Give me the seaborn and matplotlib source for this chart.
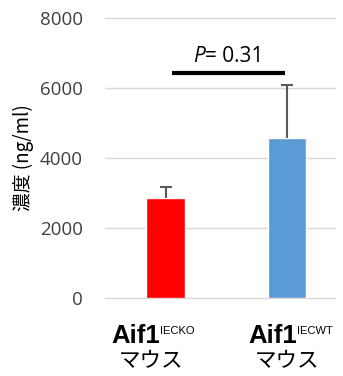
import matplotlib
matplotlib.use("Agg")
import matplotlib.pyplot as plt
import matplotlib.transforms as mtransforms
import seaborn as sns
import pandas as pd

groups = ["Aif1 IECKO", "Aif1 IECWT"]
label_main = ["Aif1", "Aif1"]
label_sup = ["IECKO", "IECWT"]
label_sub = ["マウス", "マウス"]
means = [2850, 4580]
errors = [320, 1510]
colors = ["#FF0000", "#5B9BD5"]
yticks = [0, 2000, 4000, 6000, 8000]
p_text = "= 0.31"

sns.set_theme(style="white")
plt.rcParams['font.family'] = ['Open Sans', 'Noto Sans CJK JP', 'DejaVu Sans']

df = pd.DataFrame({"group": groups, "value": means})

fig = plt.figure(figsize=(3.43, 3.76), dpi=100)
ax = fig.add_axes([105/343, 78/376, 230/343, 280/376])

sns.barplot(data=df, x="group", y="value", hue="group", palette=colors,
            width=0.32, ax=ax, legend=False, errorbar=None, saturation=1)

# upper-only error bars
xs = list(range(len(means)))
tops = [m + e for m, e in zip(means, errors)]
ax.vlines(xs, means, tops, color="#595959", linewidth=1.5, zorder=3)
ax.plot(xs, tops, linestyle="none", marker="_", markersize=8, markeredgewidth=1.5,
        color="#595959", zorder=3)

ax.set_xlim(-0.5, 1.395)
ax.set_ylim(0, 8000)
ax.set_yticks(yticks)
ax.set_yticklabels([str(v) for v in yticks], fontsize=13.5, color="#404040")
ax.yaxis.grid(True, color="#D9D9D9", linewidth=1)
for gl in ax.get_ygridlines():
    gl.set_clip_on(False)
ax.set_axisbelow(True)
for s in ax.spines.values():
    s.set_visible(False)
ax.tick_params(axis="both", length=0, pad=16)
ax.set_xticks([])
ax.set_xlabel("")
ax.set_ylabel("濃度 (ng/ml)", fontsize=13.5, color="#000000",
              family=['Noto Sans CJK JP', 'DejaVu Sans'], labelpad=4)

# x category labels
trans = mtransforms.blended_transform_factory(ax.transData, fig.transFigure)
split_x = [-0.045, 1.082]
sub_x = [-0.12, 1.0]
for i, (m, s, sub) in enumerate(zip(label_main, label_sup, label_sub)):
    ax.text(split_x[i], 1 - 343/376, m, transform=trans, ha="right", va="baseline",
            fontsize=18.5, fontweight="bold", family="Liberation Sans", color="#000000")
    ax.text(split_x[i], 1 - 334/376, s, transform=trans, ha="left", va="baseline",
            fontsize=8, family="Liberation Sans", color="#000000")
    ax.text(sub_x[i], 1 - 361/376, sub, transform=trans, ha="center", va="center",
            fontsize=15.5, family=['Noto Sans CJK JP', 'DejaVu Sans'], color="#000000")

# significance bar
ax.plot([0.053, 0.983], [6430, 6430], color="black", linewidth=3, clip_on=False,
        solid_capstyle="butt")
ax.text(0.32, 6890, "P", ha="right", va="center", fontsize=15, style="italic",
        color="#000000")
ax.text(0.32, 6890, p_text, ha="left", va="center", fontsize=15, color="#000000")

fig.savefig("out.png", dpi=100)
